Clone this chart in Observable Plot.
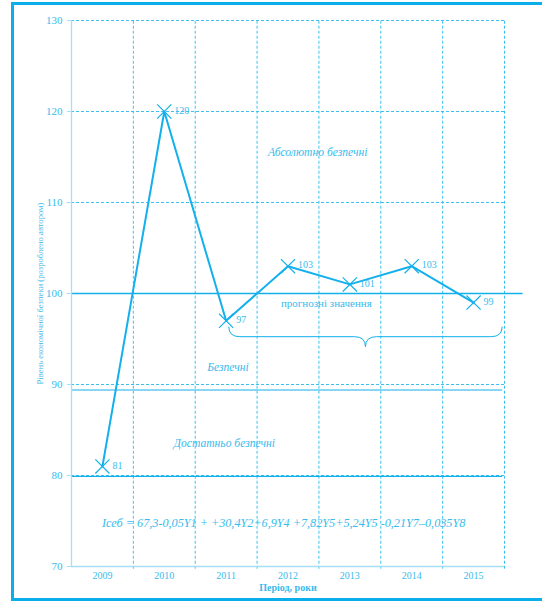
<!DOCTYPE html>
<html>
<head>
<meta charset="utf-8">
<script src="https://cdn.jsdelivr.net/npm/d3@7"></script>
<script src="https://cdn.jsdelivr.net/npm/@observablehq/plot@0.6"></script>
<style>
  html, body { margin: 0; padding: 0; background: #fff; }
  #wrap { position: relative; width: 542px; height: 605px; overflow: hidden; }
  #frame { position: absolute; left: 11px; top: 2px; width: 600px; height: 599px; border: 3px solid #0aaeea; box-sizing: border-box; pointer-events: none; }
  #chart { position: absolute; left: 0; top: 0; }
</style>
</head>
<body>
<div id="wrap"><div id="chart"></div><div id="frame"></div></div>
<script>
// ---- data ----
const years = [2009, 2010, 2011, 2012, 2013, 2014, 2015];
const values = [81, 120, 97, 103, 101, 103, 99];
const yTicks = [70, 80, 90, 100, 110, 120, 130];
const dashedGridY = [80, 90, 110, 120, 130];
const zoneBoundaries = [89.4, 79.9];
const thresholdLine = [100];
const zoneLabels = ["Абсолютно безпечні", "Безпечні", "Достатньо безпечні"];
const zoneLabelX = [2012.48, 2011.03, 2010.97];
const zoneLabelY = [115.5, 91.9, 83.5];
const forecastLabel = "прогнозні значення";
const forecastFrom = 2011, forecastTo = 2015;
const formula = "Ісеб = 67,3-0,05Y1 + +30,4Y2+6,9Y4 +7,82Y5+5,24Y5 -0,21Y7–0,035Y8";
const xTitle = "Період, роки";
const yTitle = "Рівень економічної безпеки (розроблено автором)";

const points = years.map((y, i) => ({year: y, value: values[i]}));
const gridX = years.map(y => y + 0.5);

const LINE = "#13b0ec";
const GRID = "#3cc2f1";
const TEXT = "#38bbec";
const AXIS = "#a6def6";
const FONT = "'Liberation Serif', 'DejaVu Serif', serif";

const brace = (index, scales) => {
  const x = scales.x, y = scales.y;
  const x0 = x(forecastFrom + 0.05), x1 = x(forecastTo + 0.47), xm = (x0 + x1) / 2;
  const yTop = y(96.3), yMid = y(95.2), yTip = y(94.1);
  const r = 11;
  const p = d3.path();
  p.moveTo(x0, yTop);
  p.quadraticCurveTo(x0, yMid, x0 + r, yMid);
  p.lineTo(xm - r, yMid);
  p.quadraticCurveTo(xm, yMid, xm, yTip);
  p.quadraticCurveTo(xm, yMid, xm + r, yMid);
  p.lineTo(x1 - r, yMid);
  p.quadraticCurveTo(x1, yMid, x1, yTop);
  const el = document.createElementNS("http://www.w3.org/2000/svg", "path");
  el.setAttribute("d", p.toString());
  el.setAttribute("fill", "none");
  el.setAttribute("stroke", LINE);
  el.setAttribute("stroke-width", "1");
  return el;
};

const chart = Plot.plot({
  width: 542,
  height: 605,
  marginLeft: 71,
  marginRight: 38,
  marginTop: 20,
  marginBottom: 39,
  style: {fontFamily: FONT, color: TEXT, background: "transparent"},
  x: {domain: [2008.5, 2015.5]},
  y: {domain: [70, 130]},
  marks: [
    // vertical dashed grid at band edges
    Plot.ruleX(gridX, {x: d => d, y1: 69.7, y2: 130, stroke: GRID, strokeWidth: 1, strokeDasharray: "3,2"}),
    // horizontal dashed grid
    Plot.ruleY(dashedGridY, {y: d => d, x1: 2008.5, x2: 2015.5, stroke: GRID, strokeWidth: 1, strokeDasharray: "3,2"}),
    // zone boundaries
    Plot.ruleY(zoneBoundaries, {y: d => d, x1: 2008.5, x2: 2015.47, stroke: LINE, strokeWidth: 1.1}),
    Plot.ruleY(thresholdLine, {y: d => d, x1: 2008.5, x2: 2015.8, stroke: LINE, strokeWidth: 1.6}),
    // axes lines
    Plot.ruleX([2008.5], {y1: 70, y2: 130, stroke: AXIS, strokeWidth: 1.3}),
    Plot.ruleY([70], {x1: 2008.5, x2: 2015.5, stroke: AXIS, strokeWidth: 1.6}),
    Plot.axisY({ticks: yTicks, tickSize: 4, tickPadding: 5, stroke: AXIS, fill: TEXT, fontSize: 11, label: null}),
    Plot.axisX({ticks: years, tickSize: 0, tickPadding: 5, tickFormat: d => String(d), fill: TEXT, fontSize: 10, label: null}),
    // series
    Plot.line(points, {x: "year", y: "value", stroke: LINE, strokeWidth: 2}),
    Plot.dot(points, {x: "year", y: "value", symbol: "times", r: 6.5, stroke: LINE, strokeWidth: 1.2}),
    Plot.text(points, {x: "year", y: "value", text: d => String(d.value), dx: 10, dy: -1, textAnchor: "start", fill: TEXT, fontSize: 10}),
    // zone labels
    Plot.text(zoneLabels, {x: (d, i) => zoneLabelX[i], y: (d, i) => zoneLabelY[i], text: d => d, fill: TEXT, fontSize: 11.6, fontStyle: "italic"}),
    Plot.text([forecastLabel], {x: 2012.62, y: 98.9, text: d => d, fill: TEXT, fontSize: 11}),
    brace,
    Plot.text([formula], {x: 2011.93, y: 74.75, text: d => d, fill: TEXT, fontSize: 12.2, fontStyle: "italic"}),
    // titles
    Plot.text([xTitle], {frameAnchor: "bottom", dy: 24, text: d => d, fill: TEXT, fontSize: 10, fontWeight: "bold"}),
    Plot.text([yTitle], {frameAnchor: "left", dx: -31, rotate: -90, textAnchor: "middle", text: d => d, fill: TEXT, fontSize: 8.6})
  ]
});
document.getElementById("chart").appendChild(chart);
</script>
</body>
</html>
